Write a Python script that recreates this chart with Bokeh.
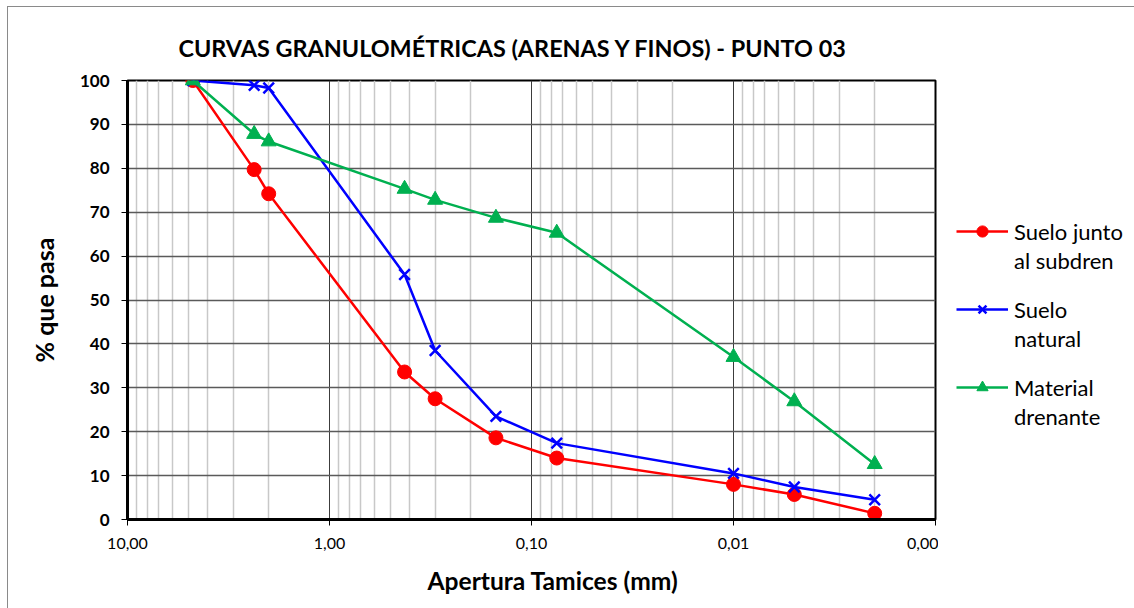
from bokeh.plotting import figure
from bokeh.layouts import row
from bokeh.models import Range1d, FixedTicker, Legend, LegendItem, Title
from bokeh.embed import file_html
from bokeh.resources import INLINE

# Sieve openings (mm) and percent passing for each sample
aperturas = [4.75, 2.36, 2.00, 0.425, 0.30, 0.15, 0.075, 0.01, 0.005, 0.002]
suelo_subdren = [100, 79.7, 74.2, 33.6, 27.5, 18.6, 14.0, 8.0, 5.7, 1.4]
suelo_natural = [100, 98.9, 98.3, 55.8, 38.5, 23.5, 17.4, 10.5, 7.4, 4.5]
material_drenante = [100, 87.8, 86.1, 75.3, 72.8, 68.7, 65.3, 37.0, 26.9, 12.6]

x_major = [10, 1, 0.1, 0.01, 0.001]
x_labels = ["10,00", "1,00", "0,10", "0,01", "0,00"]
x_minor = [k * 10.0 ** e for e in range(-3, 1) for k in range(2, 10)]
y_ticks = list(range(0, 101, 10))

FONT = "Lato"
RED, BLUE, GREEN = "#ff0000", "#0000ff", "#00b050"

p = figure(
    width=930, height=601,
    x_axis_type="log",
    x_range=Range1d(10, 0.001), y_range=Range1d(0, 100),
    output_backend="svg", toolbar_location=None,
    min_border_left=119, min_border_right=3,
    min_border_top=73, min_border_bottom=89,
)
p.background_fill_color = "white"
p.border_fill_color = "white"
p.outline_line_color = "black"
p.outline_line_width = 2

p.add_layout(Title(
    text="CURVAS GRANULOMÉTRICAS (ARENAS Y FINOS) - PUNTO 03",
    align="left", offset=51, standoff=38,
    text_font=FONT, text_font_size="23.4px", text_font_style="bold",
    text_color="black"), "above")

# x axis
xa = p.xaxis[0]
xa.ticker = FixedTicker(ticks=x_major, minor_ticks=x_minor)
xa.major_label_overrides = dict(zip(x_major, x_labels))
xa.major_label_text_font = FONT
xa.major_label_text_font_size = "16px"
xa.major_label_text_color = "black"
xa.major_label_standoff = 12
xa.major_tick_out = 6
xa.major_tick_in = 0
xa.minor_tick_line_color = None
xa.axis_line_width = 3
xa.axis_line_color = "black"
xa.major_tick_line_color = "black"

p.add_layout(Title(
    text="Apertura Tamices (mm)",
    align="left", offset=300, standoff=25,
    text_font=FONT, text_font_size="24.6px", text_font_style="bold",
    text_color="black"), "below")

# y axis
ya = p.yaxis[0]
ya.ticker = FixedTicker(ticks=y_ticks)
ya.major_label_text_font = FONT
ya.major_label_text_font_size = "17px"
ya.major_label_text_font_style = "bold"
ya.major_label_text_color = "black"
ya.major_label_standoff = 12
ya.major_tick_out = 6
ya.major_tick_in = 0
ya.minor_tick_line_color = None
ya.axis_line_width = 3
ya.axis_line_color = "black"
ya.major_tick_line_color = "black"
ya.axis_label = "% que pasa"
ya.axis_label_text_font = FONT
ya.axis_label_text_font_size = "25px"
ya.axis_label_text_font_style = "bold"
ya.axis_label_text_color = "black"
ya.axis_label_standoff = 18

# grids
p.xgrid.grid_line_color = "#3c3c3c"
p.xgrid.grid_line_width = 1
p.xgrid.minor_grid_line_color = "#c8c8c8"
p.xgrid.minor_grid_line_width = 1.5
p.ygrid.grid_line_color = "#5a5a5a"
p.ygrid.grid_line_width = 1.5

# series
series = [
    ("Suelo junto", "al subdren", suelo_subdren, RED,
     dict(marker="circle", size=14, fill_color=RED, line_color=RED)),
    ("Suelo", "natural", suelo_natural, BLUE,
     dict(marker="x", size=15, line_color=BLUE, line_width=2.5)),
    ("Material", "drenante", material_drenante, GREEN,
     dict(marker="triangle", size=15, fill_color=GREEN, line_color=GREEN)),
]
for _, _, vals, color, mk in series:
    p.line(aperturas, vals, line_color=color, line_width=2.5)
    p.scatter(aperturas, vals, **mk)

# legend panel to the right of the chart; its unit ranges keep the
# proxy series (percent values) out of view so only the legend shows
lp = figure(
    width=196, height=601,
    x_range=Range1d(0, 1), y_range=Range1d(0, 1),
    x_axis_type=None, y_axis_type=None,
    output_backend="svg", toolbar_location=None,
    min_border=0,
)
lp.outline_line_color = None
lp.background_fill_color = "white"
lp.border_fill_color = "white"

blank = lp.line(x=[], y=[], line_alpha=0)
bottoms = [245, 167, 89]
for (first, second, vals, color, mk), bottom in zip(series, bottoms):
    ln = lp.line(aperturas, vals, line_color=color, line_width=2.5)
    sc = lp.scatter(aperturas, vals, **mk)
    lg = Legend(
        items=[LegendItem(label=first, renderers=[ln, sc]),
               LegendItem(label=second, renderers=[blank])],
        location=(18, bottom),
        label_text_font=FONT, label_text_font_size="22px",
        label_text_color="black",
        glyph_width=52, glyph_height=28, label_height=28, label_standoff=6,
        spacing=1, padding=0, margin=0,
        border_line_color=None, background_fill_alpha=0,
    )
    lp.add_layout(lg)

layout = row(
    p, lp,
    margin=(6, 0, 0, 7),
    styles={"border-left": "1px solid #8a8a8a", "border-top": "1px solid #8a8a8a"},
)

open("out.html", "w").write(file_html(layout, INLINE))
